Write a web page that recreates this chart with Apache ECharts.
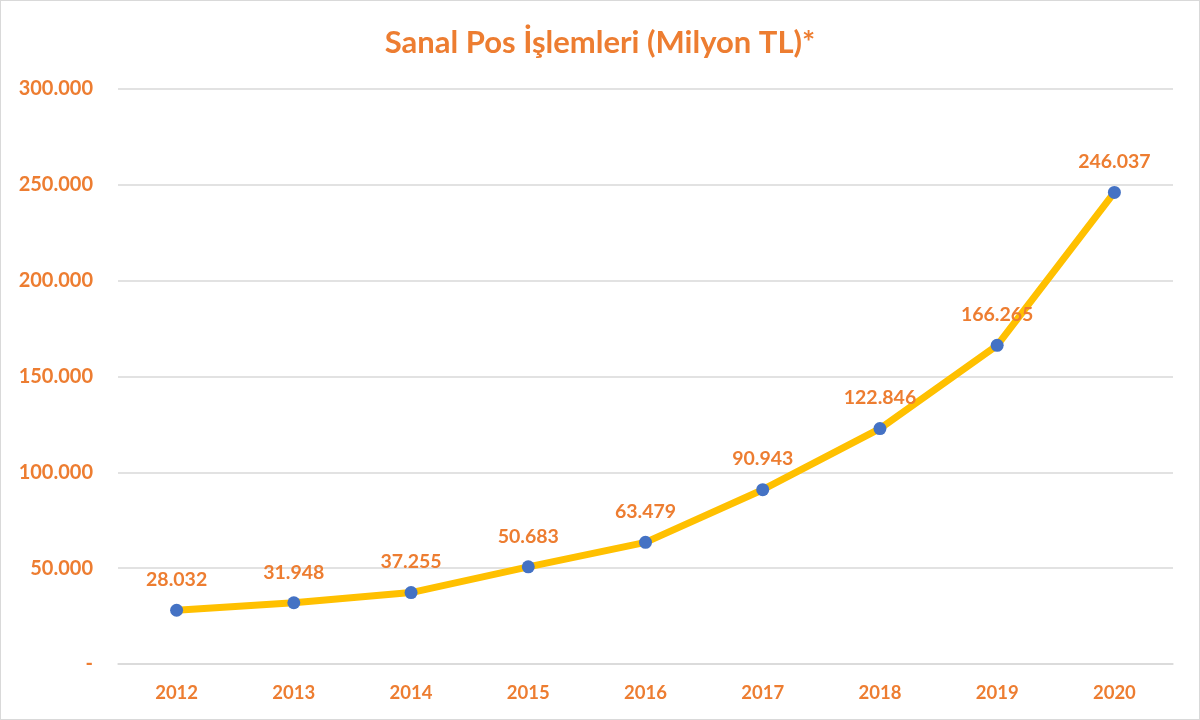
<!DOCTYPE html>
<html>
<head>
<meta charset="utf-8">
<script src="https://cdn.jsdelivr.net/npm/echarts@6/dist/echarts.min.js"></script>
<style>
  html, body { margin: 0; padding: 0; background: #fff; }
  #chart { width: 1198px; height: 718px; border: 1px solid #d9d9d9; }
</style>
</head>
<body>
<div id="chart"></div>
<script>
// veriler
const years = ['2012', '2013', '2014', '2015', '2016', '2017', '2018', '2019', '2020']
const values = [28032, 31948, 37255, 50683, 63479, 90943, 122846, 166265, 246037]

const orange = '#ED7D31'

// binlik ayraç nokta ile
const fmt = v => v === 0 ? '-' : String(v).replace(/\B(?=(\d{3})+(?!\d))/g, '.')

const myChart = echarts.init(document.querySelector('#chart'))

const option = {
  textStyle: { fontFamily: 'Lato' },
  title: {
    text: 'Sanal Pos İşlemleri (Milyon TL)*',
    left: 'center',
    top: 21,
    textStyle: {
      color: orange,
      fontSize: 31,
      fontWeight: 'bold',
      fontFamily: 'Lato'
    }
  },
  grid: {
    left: 117,
    right: 26,
    top: 88,
    bottom: 55
  },
  xAxis: {
    type: 'category',
    data: years,
    boundaryGap: true,
    axisLine: { lineStyle: { color: '#d9d9d9', width: 1.5 } },
    axisTick: { show: false },
    axisLabel: {
      color: orange,
      fontSize: 18.5,
      fontWeight: 'bold',
      margin: 20
    }
  },
  yAxis: {
    type: 'value',
    min: 0,
    max: 300000,
    interval: 50000,
    axisLine: { show: false },
    axisTick: { show: false },
    axisLabel: {
      color: orange,
      fontSize: 20,
      fontWeight: 'bold',
      margin: 25,
      formatter: fmt
    },
    splitLine: { lineStyle: { color: '#d9d9d9', width: 1.5 } }
  },
  series: [
    {
      type: 'line',
      data: values,
      symbol: 'circle',
      symbolSize: 13,
      itemStyle: { color: '#4472C4' },
      lineStyle: { color: '#FFC000', width: 7 },
      z: 3,
      label: {
        show: true,
        position: 'top',
        distance: 14,
        color: orange,
        fontSize: 19.5,
        fontWeight: 'bold',
        formatter: p => fmt(p.value)
      }
    }
  ],
  animation: false
}

myChart.setOption(option)
</script>
</body>
</html>
